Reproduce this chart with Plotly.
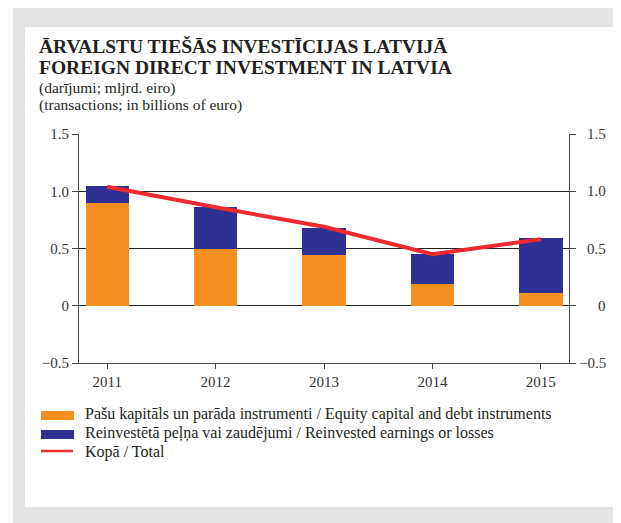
import plotly.graph_objects as go

years = ["2011", "2012", "2013", "2014", "2015"]
equity = [0.90, 0.50, 0.44, 0.19, 0.11]
reinvested = [0.15, 0.36, 0.24, 0.26, 0.48]
total = [1.04, 0.86, 0.69, 0.45, 0.58]
ytick_vals = [-0.5, 0, 0.5, 1.0, 1.5]
ytick_text = ["\u22120.5", "0", "0.5", "1.0", "1.5"]

title_lines = ["\u0100RVALSTU TIE\u0160\u0100S INVEST\u012aCIJAS LATVIJ\u0100",
               "FOREIGN DIRECT INVESTMENT IN LATVIA"]
subtitle_lines = ["(dar\u012bjumi; mljrd. eiro)", "(transactions; in billions of euro)"]
legend_labels = ["Pa\u0161u kapit\u0101ls un par\u0101da instrumenti / Equity capital and debt instruments",
                 "Reinvest\u0113t\u0101 pe\u013c\u0146a vai zaud\u0113jumi / Reinvested earnings or losses",
                 "Kop\u0101 / Total"]

ORANGE = "#F58F1F"
BLUE = "#2E3192"
RED = "#EE2A2E"
GRAY = "#E3E4E6"
TXT = "#231F20"
FONT = "Liberation Serif"

OFF = 8  # page body margin
W, H = 621 - OFF, 523 - OFF
L, R, T, B = 79 - OFF, 569 - OFF, 134 - OFF, 363 - OFF


def px(x):
    return (x - OFF - L) / (R - L)


def py(y):
    return (B - (y - OFF)) / (B - T)


fig = go.Figure()
fig.add_trace(go.Bar(x=years, y=equity, marker=dict(color=ORANGE, line=dict(width=0)),
                     width=0.4, name=legend_labels[0], showlegend=False))
fig.add_trace(go.Bar(x=years, y=reinvested, marker=dict(color=BLUE, line=dict(width=0)),
                     width=0.4, name=legend_labels[1], showlegend=False))
fig.add_trace(go.Scatter(x=years, y=total, mode="lines", line=dict(color=RED, width=4),
                         name=legend_labels[2], showlegend=False))
fig.add_trace(go.Scatter(x=years, y=total, mode="lines", line=dict(width=0), opacity=0,
                         yaxis="y2", showlegend=False, hoverinfo="skip"))

shapes = [
    dict(type="rect", xref="paper", yref="paper", x0=px(13), x1=px(640), y0=py(540), y1=py(0),
         fillcolor=GRAY, line=dict(width=0), layer="below"),
    dict(type="rect", xref="paper", yref="paper", x0=px(25), x1=px(614), y0=py(507), y1=py(27),
         fillcolor="white", line=dict(width=0), layer="below"),
    dict(type="rect", xref="paper", yref="paper", x0=px(41), x1=px(74), y0=py(420), y1=py(411),
         fillcolor=ORANGE, line=dict(width=0)),
    dict(type="rect", xref="paper", yref="paper", x0=px(41), x1=px(74), y0=py(439), y1=py(430),
         fillcolor=BLUE, line=dict(width=0)),
    dict(type="line", xref="paper", yref="paper", x0=px(41), x1=px(73), y0=py(451), y1=py(451),
         line=dict(color=RED, width=2.5)),
]

annotations = []
for i, t in enumerate(title_lines):
    annotations.append(dict(text="<b>" + t + "</b>", xref="paper", yref="paper", x=px(37),
                            y=py(47 + 20.5 * i), xanchor="left", yanchor="middle", showarrow=False,
                            font=dict(family=FONT, size=19.5, color=TXT)))
for i, t in enumerate(subtitle_lines):
    annotations.append(dict(text=t, xref="paper", yref="paper", x=px(37),
                            y=py(88 + 16.5 * i), xanchor="left", yanchor="middle", showarrow=False,
                            font=dict(family=FONT, size=15.5, color=TXT)))
for i, t in enumerate(legend_labels):
    annotations.append(dict(text=t, xref="paper", yref="paper", x=px(83),
                            y=py(414 + 19 * i), xanchor="left", yanchor="middle", showarrow=False,
                            font=dict(family=FONT, size=16, color=TXT)))
# right-axis tick labels, right aligned as in the original
for v, t in zip(ytick_vals, ytick_text):
    annotations.append(dict(text=t, xref="paper", yref="y", x=px(608), y=v,
                            xanchor="right", yanchor="middle", showarrow=False,
                            font=dict(family=FONT, size=15, color="#333")))

axis_common = dict(range=[-0.5, 1.5], tickvals=ytick_vals, ticktext=ytick_text,
                   ticks="outside", ticklen=6, tickcolor="#444", tickwidth=1,
                   showline=True, linecolor="#444", linewidth=1,
                   tickfont=dict(family=FONT, size=15, color="#333"), zeroline=False)

fig.update_layout(
    width=W, height=H,
    margin=dict(l=L, r=W - R, t=T, b=H - B, pad=0),
    paper_bgcolor="white", plot_bgcolor="rgba(0,0,0,0)",
    barmode="stack", bargap=0.6,
    showlegend=False,
    xaxis=dict(type="category", range=[-0.26, 4.26], ticks="outside", ticklen=5,
               tickcolor="#444", showline=True, linecolor="#444", linewidth=1,
               showgrid=False, tickfont=dict(family=FONT, size=15, color="#333")),
    yaxis=dict(**axis_common, showgrid=True, gridcolor="#222", gridwidth=1),
    yaxis2=dict(**axis_common, overlaying="y", side="right", showgrid=False,
                showticklabels=False),
    shapes=shapes,
    annotations=annotations,
)
fig.write_html("out.html")
